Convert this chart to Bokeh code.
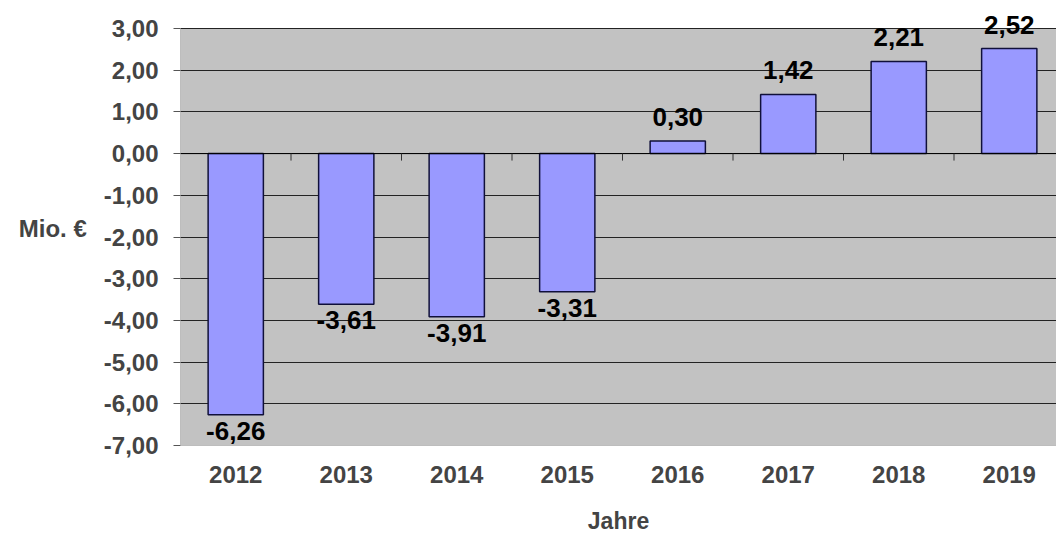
from bokeh.plotting import figure
from bokeh.models import ColumnDataSource, Range1d, FixedTicker, Label
from bokeh.embed import file_html
from bokeh.resources import INLINE

years = ["2012", "2013", "2014", "2015", "2016", "2017", "2018", "2019"]
values = [-6.26, -3.61, -3.91, -3.31, 0.30, 1.42, 2.21, 2.52]
y_ticks = [-7, -6, -5, -4, -3, -2, -1, 0, 1, 2, 3]
y_tick_labels = ["-7,00", "-6,00", "-5,00", "-4,00", "-3,00", "-2,00", "-1,00",
                 "0,00", "1,00", "2,00", "3,00"]

FONT = "Liberation Sans"
idx = list(range(len(years)))
labels = [f"{v:.2f}".replace(".", ",") for v in values]

src = ColumnDataSource(dict(x=idx, top=values))
bounds = [i + 0.5 for i in idx[:-1]]

W, H = 1056, 537
left = 180
plot_top_px = 28          # where the 3,00 line sits
top = 10                  # frame top (extra room for labels above the plot area)
area_h = 417              # height of plot area from 3,00 to -7,00
y_lo, y_hi = y_ticks[0], y_ticks[-1]
y_per_px = (y_hi - y_lo) / area_h
frame_h = area_h + (plot_top_px - top)
frame_w = W - left
spacing = 110.5
x_lo = -0.5
x_hi = x_lo + frame_w / spacing

p = figure(width=W, height=H, output_backend="svg", toolbar_location=None,
           x_range=Range1d(x_lo, x_hi),
           y_range=Range1d(y_lo, y_hi + (plot_top_px - top) * y_per_px),
           min_border_left=left, min_border_top=top, min_border_right=0,
           min_border_bottom=H - top - frame_h)

p.border_fill_color = "white"
p.background_fill_color = "white"
p.outline_line_color = None

# grey plot area
p.quad(left=[x_lo], right=[x_hi + 1], bottom=[y_lo], top=[y_hi],
       fill_color="#c2c2c2", line_color="#8a8a8a", line_width=1, level="image")

p.xgrid.grid_line_color = None
p.ygrid.grid_line_color = "#222222"
p.ygrid.grid_line_width = 1

p.vbar(x="x", top="top", bottom=0, width=0.5, source=src,
       fill_color="#9999ff", line_color="#10103a", line_width=1.5)

# category axis line at zero with small boundary ticks
p.line(x=[x_lo, x_hi], y=[0, 0], line_color="black", line_width=1)
p.segment(x0=bounds, y0=[0] * len(bounds), x1=bounds,
          y1=[-7 * y_per_px] * len(bounds), line_color="#333333", line_width=1)

for xi, v, t in zip(idx, values, labels):
    p.add_layout(Label(x=xi, y=v, text=t,
                       text_font=FONT, text_font_style="bold",
                       text_font_size="26px", text_color="black",
                       text_align="center",
                       text_baseline="bottom" if v >= 0 else "top",
                       y_offset=15 if v >= 0 else -7))

p.xaxis.ticker = FixedTicker(ticks=idx)
p.xaxis.major_label_overrides = {i: y for i, y in zip(idx, years)}
p.xaxis.major_tick_line_color = None
p.xaxis.minor_tick_line_color = None
p.xaxis.axis_line_color = None
p.xaxis.major_label_text_font = FONT
p.xaxis.major_label_text_font_style = "bold"
p.xaxis.major_label_text_font_size = "24px"
p.xaxis.major_label_standoff = 14
p.xaxis.axis_label = "Jahre"
p.xaxis.axis_label_text_font = FONT
p.xaxis.axis_label_text_font_style = "bold"
p.xaxis.axis_label_text_font_size = "23px"
p.xaxis.axis_label_standoff = 22

p.yaxis.ticker = FixedTicker(ticks=y_ticks)
p.yaxis.major_label_overrides = {t: l for t, l in zip(y_ticks, y_tick_labels)}
p.yaxis.minor_tick_line_color = None
p.yaxis.major_tick_in = 0
p.yaxis.major_tick_out = 7
p.yaxis.major_tick_line_color = "#555555"
p.yaxis.axis_line_color = None
p.yaxis.major_label_text_font = FONT
p.yaxis.major_label_text_font_style = "bold"
p.yaxis.major_label_text_font_size = "24px"
p.yaxis.major_label_standoff = 15
p.yaxis.axis_label = "Mio. €"
p.yaxis.axis_label_orientation = "horizontal"
p.yaxis.axis_label_text_font = FONT
p.yaxis.axis_label_text_font_style = "bold"
p.yaxis.axis_label_text_font_size = "24px"
p.yaxis.axis_label_standoff = 14

open("out.html", "w").write(file_html(p, INLINE))
